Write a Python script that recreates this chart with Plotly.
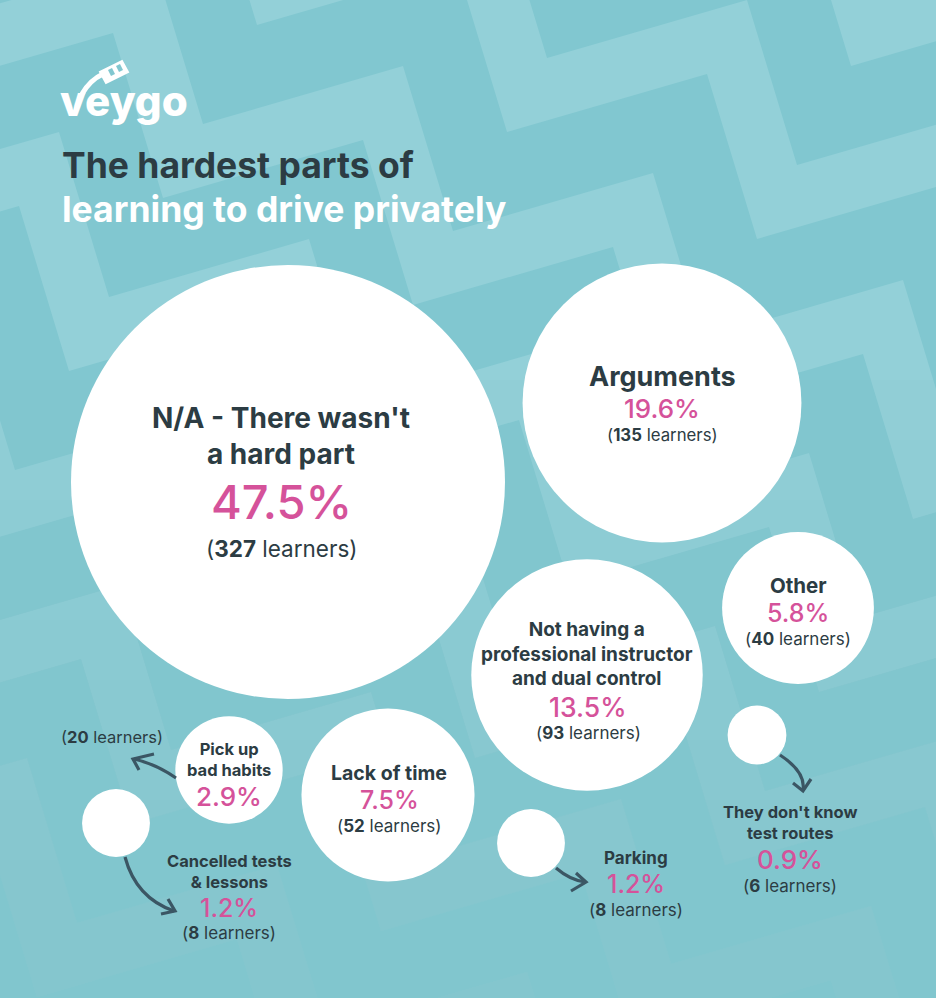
import plotly.graph_objects as go

# ---------------- data ----------------
categories = [
    "N/A - There wasn't a hard part",
    "Arguments",
    "Not having a professional instructor and dual control",
    "Other",
    "Lack of time",
    "Pick up bad habits",
    "Cancelled tests & lessons",
    "Parking",
    "They don't know test routes",
]
percent = [47.5, 19.6, 13.5, 5.8, 7.5, 2.9, 1.2, 1.2, 0.9]
learners = [327, 135, 93, 40, 52, 20, 8, 8, 6]
label_html = [
    "N/A - There wasn't<br>a hard part",
    "Arguments",
    "Not having a<br>professional instructor<br>and dual control",
    "Other",
    "Lack of time",
    "Pick up<br>bad habits",
    "Cancelled tests<br>& lessons",
    "Parking",
    "They don't know<br>test routes",
]

# ---------------- layout (pixel coordinates) ----------------
W, H = 936, 998
bubble_x = [288, 662, 587, 798, 388, 229, 116, 531, 757]
bubble_y = [482, 403, 675, 608, 795, 770, 823, 843, 735]
text_x = [281, 662, 587, 798, 389, 229, 229, 636, 790]
name_y = [436, 376, 654, 585, 773, 759.5, 871, 858, 822.5]
pct_y = [501, 408.5, 706.5, 613, 800, 796, 907.5, 884, 859.5]
cnt_x = [282, 662, 588, 798, 389, 112, 229, 636, 790]
cnt_y = [548, 435, 733, 638.5, 825.5, 737, 933, 909.5, 886]
name_size = [28, 27, 19, 20.5, 19.5, 16.5, 16.5, 17, 16.5]
pct_size = [47, 26, 26.5, 25, 25, 26, 25, 25, 26]
cnt_size = [22.5, 16.8, 17, 17, 17, 16.5, 17, 17, 17]

BG = "#81C7D0"
BAND = "#93D0D8"
DARK = "#2C3C43"
PINK = "#D5529A"
ARROW = "#3B5664"
FONT = "Inter"
MAX_DIAM = 434

fig = go.Figure()

# background chevron bands (decoration)
shapes = []
S = (200, -58)
T = (50, 165)
Woff = (-40, 74)
P = (-94, 173)
for k in range(-5, 10):
    base = (747 + k * P[0], 0 + k * P[1])
    back = [base]
    cur = base
    for i in range(6):
        cur = (cur[0] - S[0], cur[1] - S[1]); back.append(cur)
        cur = (cur[0] - T[0], cur[1] - T[1]); back.append(cur)
    back = back[::-1]
    fwd = []
    cur = base
    for i in range(6):
        cur = (cur[0] + T[0], cur[1] + T[1]); fwd.append(cur)
        cur = (cur[0] + S[0], cur[1] + S[1]); fwd.append(cur)
    top = back + fwd
    bot = [(x + Woff[0], y + Woff[1]) for x, y in top][::-1]
    poly = top + bot
    path = "M " + " L ".join(f"{x:.1f},{y:.1f}" for x, y in poly) + " Z"
    shapes.append(dict(type="path", path=path, xref="x", yref="y",
                       fillcolor=BAND, line=dict(width=0), layer="below"))

# fade the pattern towards the bottom
for y0 in range(380, 998, 60):
    shapes.append(dict(type="rect", x0=0, x1=W, y0=y0, y1=H, xref="x", yref="y",
                       fillcolor=BG, opacity=0.12, line=dict(width=0), layer="below"))

# bubbles
fig.add_trace(go.Scatter(
    x=bubble_x, y=bubble_y, mode="markers",
    marker=dict(size=learners, sizemode="area",
                sizeref=2 * max(learners) / MAX_DIAM ** 2,
                color="white", line=dict(width=0), opacity=1),
    text=categories, hoverinfo="text", showlegend=False,
))

annotations = []
for i in range(len(categories)):
    annotations.append(dict(x=text_x[i], y=name_y[i], text=label_html[i],
                            showarrow=False, xanchor="center", yanchor="middle",
                            font=dict(family=FONT, size=name_size[i], color=DARK, weight=700)))
    annotations.append(dict(x=text_x[i], y=pct_y[i], text=f"{percent[i]}%",
                            showarrow=False, xanchor="center", yanchor="middle",
                            font=dict(family=FONT, size=pct_size[i], color=PINK, weight=500)))
    annotations.append(dict(x=cnt_x[i], y=cnt_y[i], text=f"(<b>{learners[i]}</b> learners)",
                            showarrow=False, xanchor="center", yanchor="middle",
                            font=dict(family=FONT, size=cnt_size[i], color=DARK)))

# title and logo
annotations.append(dict(x=60, y=165, text="The hardest parts of", showarrow=False,
                        xanchor="left", yanchor="middle",
                        font=dict(family=FONT, size=35.5, color=DARK, weight=700)))
annotations.append(dict(x=60, y=209, text="learning to drive privately", showarrow=False,
                        xanchor="left", yanchor="middle",
                        font=dict(family=FONT, size=35.5, color="white", weight=700)))
annotations.append(dict(x=58, y=100, text="veygo", showarrow=False,
                        xanchor="left", yanchor="middle",
                        font=dict(family=FONT, size=42, color="white", weight=800)))

# logo car icon + swoosh
shapes.append(dict(type="path", path="M 82,94 Q 90,80 103,74", xref="x", yref="y",
                   line=dict(color="white", width=5), layer="above"))
shapes.append(dict(type="path", path="M 100,72 L 122,61 L 128,72 L 106,83 Z", xref="x", yref="y",
                   fillcolor="white", line=dict(color="white", width=2), layer="above"))
shapes.append(dict(type="path", path="M 108,70 L 112,68 L 115,74 L 111,76 Z", xref="x", yref="y",
                   fillcolor=BG, line=dict(width=0), layer="above"))
shapes.append(dict(type="path", path="M 116,66 L 120,64 L 123,70 L 119,72 Z", xref="x", yref="y",
                   fillcolor=BG, line=dict(width=0), layer="above"))

# arrows
arrows = [
    ("M 176,778 Q 156,764 134,759", "M 154,754 L 133,759 L 139,770"),
    ("M 125,857 Q 136,898 174,911", "M 161,914 L 175,911 L 168,899"),
    ("M 556,868 Q 570,880 585,882", "M 571,891 L 586,882 L 576,873"),
    ("M 780,755 Q 806,772 803,790", "M 793,783 L 803,791 L 811,779"),
]
for shaft, head in arrows:
    for p in (shaft, head):
        shapes.append(dict(type="path", path=p, xref="x", yref="y",
                           line=dict(color=ARROW, width=3.2), layer="above"))

fig.update_layout(
    width=W, height=H, margin=dict(l=0, r=0, t=0, b=0),
    paper_bgcolor=BG, plot_bgcolor=BG,
    xaxis=dict(range=[0, W], visible=False, fixedrange=True),
    yaxis=dict(range=[H, 0], visible=False, fixedrange=True),
    shapes=shapes, annotations=annotations,
    hovermode="closest",
)

fig.write_html("out.html", include_plotlyjs=True, config={"displayModeBar": False})
